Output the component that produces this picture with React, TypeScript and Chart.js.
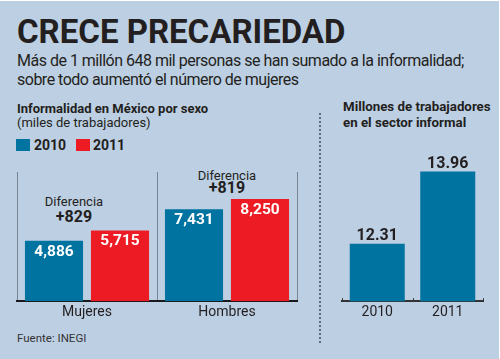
import React, { useEffect, useRef } from "react";
import { Chart, registerables } from "chart.js";

Chart.register(...registerables);

// ---------- DATA ----------
const sexCategories = ["Mujeres", "Hombres"];
const seriesNames = ["2010", "2011"];
const values2010 = [4886, 7431];
const values2011 = [5715, 8250];
const diffLabels = ["+829", "+819"];

const yearCategories = ["2010", "2011"];
const informalMillions = [12.31, 13.96];

// ---------- STYLE ----------
const BG = "rgb(189,207,227)";
const BLUE = "rgb(0,115,160)";
const RED = "rgb(237,28,36)";
const INK = "#231f20";
const FONT = "Roboto, 'Noto Sans', sans-serif";

const fmtThousands = (v: number) => v.toLocaleString("en-US");

const insideLabels = {
  id: "insideLabels",
  afterDatasetsDraw(chart: any) {
    const ctx = chart.ctx;
    ctx.save();
    ctx.font = `bold 15.5px ${FONT}`;
    ctx.fillStyle = "#ffffff";
    ctx.textAlign = "center";
    ctx.textBaseline = "alphabetic";
    chart.data.datasets.forEach((ds: any, di: number) => {
      const meta = chart.getDatasetMeta(di);
      meta.data.forEach((bar: any, i: number) => {
        ctx.fillText(fmtThousands(ds.data[i]), bar.x, bar.y + 15);
      });
    });
    ctx.restore();
  },
};

const aboveLabels = {
  id: "aboveLabels",
  afterDatasetsDraw(chart: any) {
    const ctx = chart.ctx;
    ctx.save();
    ctx.font = `bold 16px ${FONT}`;
    ctx.fillStyle = INK;
    ctx.textAlign = "center";
    ctx.textBaseline = "alphabetic";
    chart.data.datasets.forEach((ds: any, di: number) => {
      const meta = chart.getDatasetMeta(di);
      meta.data.forEach((bar: any, i: number) => {
        ctx.fillText(ds.data[i].toFixed(2), bar.x, bar.y - 3.5);
      });
    });
    ctx.restore();
  },
};

const upTicks = {
  id: "upTicks",
  afterDraw(chart: any) {
    const x = chart.scales.x;
    const { left, right, bottom } = chart.chartArea;
    const n = chart.data.labels.length;
    const pts: number[] = [left];
    for (let i = 1; i < n; i++) {
      pts.push((x.getPixelForValue(i - 1) + x.getPixelForValue(i)) / 2);
    }
    pts.push(right);
    const ctx = chart.ctx;
    ctx.save();
    ctx.strokeStyle = "#333";
    ctx.lineWidth = 1;
    pts.forEach((p) => {
      const xx = Math.round(p) + 0.5;
      ctx.beginPath();
      ctx.moveTo(xx, bottom - 3);
      ctx.lineTo(xx, bottom);
      ctx.stroke();
    });
    ctx.restore();
  },
};

function SexChart() {
  const ref = useRef<HTMLCanvasElement>(null);
  useEffect(() => {
    const chart = new Chart(ref.current!, {
      type: "bar",
      data: {
        labels: sexCategories,
        datasets: [
          { label: seriesNames[0], data: values2010, backgroundColor: BLUE },
          { label: seriesNames[1], data: values2011, backgroundColor: RED },
        ],
      },
      options: {
        animation: false,
        responsive: false,
        events: [],
        layout: { padding: { left: 17, right: 15, top: 21, bottom: 0 } },
        plugins: { legend: { display: false }, tooltip: { enabled: false } },
        datasets: { bar: { categoryPercentage: 0.943, barPercentage: 0.88 } },
        scales: {
          x: {
            grid: { display: true, color: "rgb(120,132,145)", lineWidth: 1, drawTicks: false, offset: true },
            border: { display: true, color: "#1a1a1a", width: 2 },
            ticks: { color: INK, font: { family: FONT, size: 14 }, padding: 2.5 },
          },
          y: { display: false, min: 0, max: 10440 },
        },
      },
      plugins: [insideLabels],
    } as any);
    return () => chart.destroy();
  }, []);
  return <canvas ref={ref} width={312} height={172} style={{ position: "absolute", left: 0, top: 150, width: 312, height: 172 }} />;
}

function YearChart() {
  const ref = useRef<HTMLCanvasElement>(null);
  useEffect(() => {
    const chart = new Chart(ref.current!, {
      type: "bar",
      data: {
        labels: yearCategories,
        datasets: [{ label: "Millones", data: informalMillions, backgroundColor: BLUE }],
      },
      options: {
        animation: false,
        responsive: false,
        events: [],
        layout: { padding: { left: 20, right: 17, top: 20, bottom: 0 } },
        plugins: { legend: { display: false }, tooltip: { enabled: false } },
        datasets: { bar: { categoryPercentage: 1, barPercentage: 0.78 } },
        scales: {
          x: {
            grid: { display: true, drawOnChartArea: false, drawTicks: false, color: "rgba(0,0,0,0)" },
            border: { display: true, color: "#333", width: 2 },
            ticks: { color: INK, font: { family: FONT, size: 14 }, padding: 2.5 },
          },
          y: { display: false, min: 11, max: 14.2 },
        },
      },
      plugins: [aboveLabels, upTicks],
    } as any);
    return () => chart.destroy();
  }, []);
  return <canvas ref={ref} width={178} height={182} style={{ position: "absolute", left: 322, top: 140, width: 178, height: 182 }} />;
}

const abs = (s: React.CSSProperties): React.CSSProperties => ({ position: "absolute", whiteSpace: "nowrap", margin: 0, ...s });

export default function App() {
  return (
    <div
      style={{
        position: "fixed",
        left: 0,
        top: 0,
        width: 500,
        height: 359,
        boxSizing: "border-box",
        background: BG,
        borderTop: "1px solid #fff",
        borderRight: "1px solid #fff",
        overflow: "hidden",
        fontFamily: FONT,
        color: INK,
      }}
    >
      <div style={abs({ left: 17, top: 14.2, fontSize: 33, lineHeight: "33px", fontWeight: 700 })}>CRECE PRECARIEDAD</div>
      <div style={abs({ left: 17, top: 49.5, fontSize: 16, lineHeight: "19px", letterSpacing: "-0.5px" })}>
        Más de 1 millón 648 mil personas se han sumado a la informalidad;
        <br />
        sobre todo aumentó el número de mujeres
      </div>

      <div style={abs({ left: 17, top: 100.5, fontSize: 13, lineHeight: "13px", fontWeight: 700 })}>Informalidad en México por sexo</div>
      <div style={abs({ left: 17, top: 114.5, fontSize: 13, lineHeight: "13px" })}>(miles de trabajadores)</div>

      <div style={abs({ left: 16, top: 138, width: 14, height: 12, background: BLUE })} />
      <div style={abs({ left: 34, top: 137.2, fontSize: 14, lineHeight: "14px", fontWeight: 700 })}>{seriesNames[0]}</div>
      <div style={abs({ left: 76, top: 138, width: 14, height: 12, background: RED })} />
      <div style={abs({ left: 93, top: 137.2, fontSize: 14, lineHeight: "14px", fontWeight: 700 })}>{seriesNames[1]}</div>

      <div style={abs({ left: 24, width: 100, top: 193.5, textAlign: "center", fontSize: 13, lineHeight: "13px" })}>Diferencia</div>
      <div style={abs({ left: 24, width: 100, top: 207.5, textAlign: "center", fontSize: 16, lineHeight: "16px", fontWeight: 700 })}>{diffLabels[0]}</div>
      <div style={abs({ left: 177, width: 100, top: 168, textAlign: "center", fontSize: 13, lineHeight: "13px" })}>Diferencia</div>
      <div style={abs({ left: 177, width: 100, top: 178.5, textAlign: "center", fontSize: 16, lineHeight: "16px", fontWeight: 700 })}>{diffLabels[1]}</div>

      <SexChart />

      <div
        style={abs({
          left: 319,
          top: 112,
          width: 2,
          height: 230,
          backgroundImage: "repeating-linear-gradient(to bottom, rgb(95,108,122) 0px, rgb(95,108,122) 2px, transparent 2px, transparent 4px)",
        })}
      />

      <div style={abs({ left: 343, top: 97.6, fontSize: 13.3, lineHeight: "16px", fontWeight: 700 })}>
        Millones de trabajadores
        <br />
        en el sector informal
      </div>

      <YearChart />

      <div style={abs({ left: 17, top: 332, fontSize: 11.5, lineHeight: "11.5px", color: "#333" })}>Fuente: INEGI</div>
    </div>
  );
}
